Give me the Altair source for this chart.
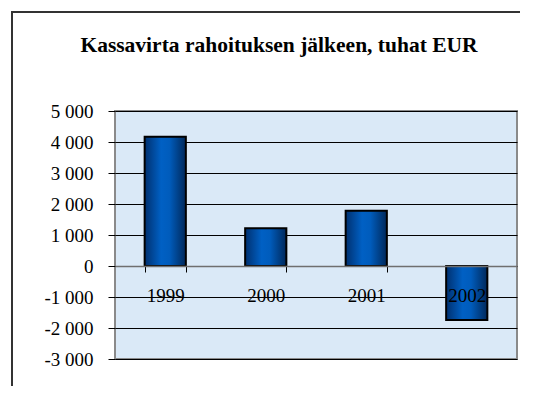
import altair as alt
import pandas as pd

# Data
years = ["1999", "2000", "2001", "2002"]
values = [4170, 1220, 1780, -1740]
y_ticks = [-3000, -2000, -1000, 0, 1000, 2000, 3000, 4000, 5000]
title_text = "Kassavirta rahoituksen jälkeen, tuhat EUR"

df = pd.DataFrame({"year": years, "value": values})
tdf = pd.DataFrame({"t": [title_text]})

FONT = "Liberation Serif"
W, H = 402, 248

bar_gradient = alt.Gradient(
    gradient="linear",
    stops=[
        alt.GradientStop(color="#00306f", offset=0),
        alt.GradientStop(color="#0060c4", offset=0.4),
        alt.GradientStop(color="#005cbc", offset=0.6),
        alt.GradientStop(color="#00285a", offset=1),
    ],
    x1=0, x2=1, y1=0, y2=0,
)

bars = alt.Chart(df).mark_bar(
    color=bar_gradient, stroke="black", strokeWidth=2
).encode(
    x=alt.X(
        "year:N",
        sort=years,
        scale=alt.Scale(paddingInner=0.59, paddingOuter=0.295),
        axis=alt.Axis(
            title=None,
            orient="bottom",
            offset=-93,
            labelAngle=0,
            tickBand="extent",
            tickSize=6,
            tickColor="black",
            domainColor="#6f6f6f",
            domainWidth=1.5,
            labelPadding=14,
            labelFont=FONT,
            labelFontSize=19,
            labelColor="black",
            grid=False,
            zindex=1,
        ),
    ),
    y=alt.Y(
        "value:Q",
        scale=alt.Scale(domain=[-3000, 5000], nice=False, zero=False),
        axis=alt.Axis(
            title=None,
            values=y_ticks,
            labelExpr="(datum.value < 0 ? '-' : '') + replace(format(abs(datum.value), ','), ',', ' ')",
            tickSize=7,
            tickColor="black",
            domain=False,
            grid=True,
            gridColor="black",
            gridWidth=1,
            labelPadding=15,
            labelFont=FONT,
            labelFontSize=19,
            labelColor="black",
        ),
    ),
)

title = alt.Chart(tdf).mark_text(
    font=FONT, fontSize=21.5, fontWeight="bold", color="black",
    align="center", baseline="alphabetic",
).encode(
    text="t:N",
    x=alt.value(164),
    y=alt.value(-59.5),
)

# outer chart-area frame (left and top edges; right/bottom lie outside the window)
frame_top = alt.Chart(tdf).mark_rect(color="#333333", clip=False).encode(
    x=alt.value(-104), x2=alt.value(405),
    y=alt.value(-100), y2=alt.value(-98),
)
frame_left = alt.Chart(tdf).mark_rect(color="#333333", clip=False).encode(
    x=alt.value(-104), x2=alt.value(-102),
    y=alt.value(-100), y2=alt.value(275),
)

chart = alt.layer(bars, title, frame_top, frame_left).properties(
    width=W,
    height=H,
    autosize="none",
    padding={"left": 107, "top": 103, "right": 16, "bottom": 37},
    background="white",
).configure_view(
    fill="#dae9f7",
    stroke="#8a8a8a",
    strokeWidth=2,
)

chart.save("out.html", embed_options={"renderer": "svg", "actions": False})
